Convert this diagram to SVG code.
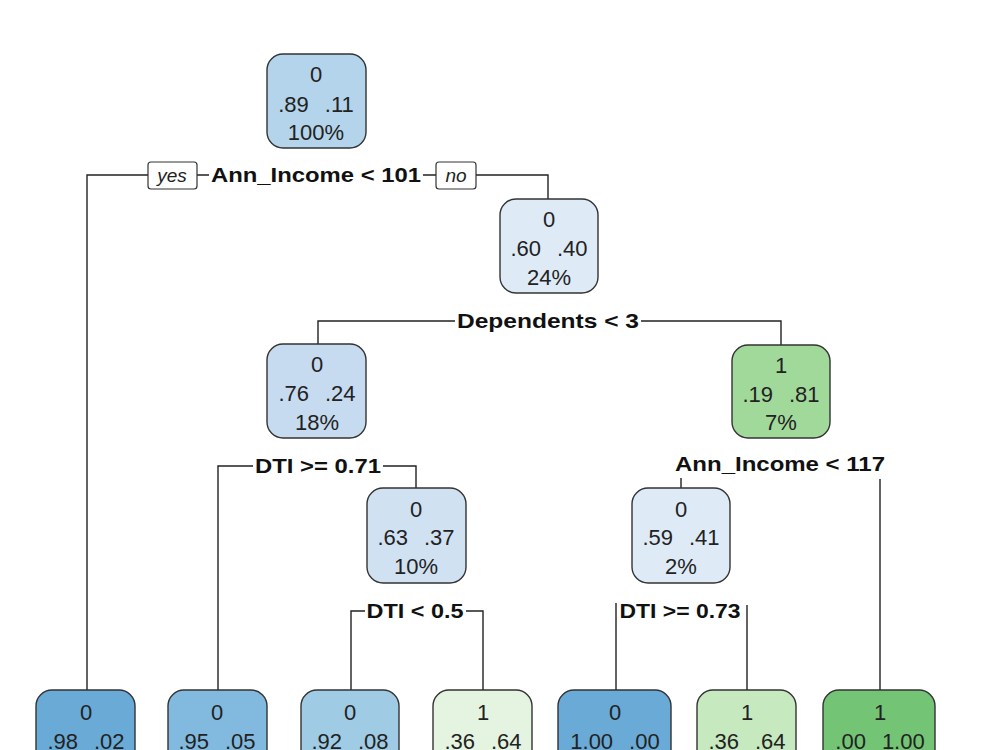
<svg xmlns="http://www.w3.org/2000/svg" width="1000" height="750" viewBox="0 0 1000 750">
<style>
.box{stroke:#333;stroke-width:1.4}
.t{font-family:"Liberation Sans",Arial,sans-serif;font-size:22px;fill:#222;text-anchor:middle}
.lab{font-family:"Liberation Sans",Arial,sans-serif;font-size:21px;font-weight:bold;fill:#111;text-anchor:middle}
.yn{font-family:"Liberation Sans",Arial,sans-serif;font-size:19px;font-style:italic;fill:#222;text-anchor:middle}
.c{stroke:#222;stroke-width:1.4;fill:none}
</style>
<rect width="1000" height="750" fill="#fff"/>
<g id="connectors">
<path class="c" d="M148,175H87V690 M197,175H209 M423,175H436 M476,175H548V199"/>
<path class="c" d="M455,321H318V344 M641,321H781V345"/>
<path class="c" d="M253,466H218V690 M383,466H416V488"/>
<path class="c" d="M365,611H351V690 M466,611H483V690"/>
<path class="c" d="M681,478V488 M880,479V690"/>
<path class="c" d="M616,603V690 M747,605V690"/>
</g>
<g id="n1"><rect class="box" x="267" y="54" width="99" height="94" rx="16" fill="#b3d4ea"/>
<text class="t" x="316" y="82">0</text><text class="t" x="316" y="112">.89<tspan dx="16">.11</tspan></text><text class="t" x="316" y="140">100%</text></g>
<g id="split1"><rect x="148" y="162" width="49" height="27" rx="3" fill="#fff" stroke="#333" stroke-width="1.2"/><text class="yn" x="172" y="182">yes</text>
<text class="lab" x="316" y="182" textLength="210" lengthAdjust="spacingAndGlyphs">Ann_Income &lt; 101</text>
<rect x="436" y="162" width="40" height="27" rx="3" fill="#fff" stroke="#333" stroke-width="1.2"/><text class="yn" x="456" y="182">no</text></g>
<g id="n2"><rect class="box" x="500" y="199" width="98" height="94" rx="16" fill="#deebf7"/>
<text class="t" x="549" y="227">0</text><text class="t" x="549" y="256">.60<tspan dx="16">.40</tspan></text><text class="t" x="549" y="285">24%</text></g>
<g id="split2"><text class="lab" x="548" y="328" textLength="182" lengthAdjust="spacingAndGlyphs">Dependents &lt; 3</text></g>
<g id="n3"><rect class="box" x="267" y="344" width="99" height="94" rx="16" fill="#c6dbef"/>
<text class="t" x="317" y="372">0</text><text class="t" x="317" y="401">.76<tspan dx="16">.24</tspan></text><text class="t" x="317" y="430">18%</text></g>
<g id="n4"><rect class="box" x="732" y="345" width="98" height="93" rx="16" fill="#a1d99b"/>
<text class="t" x="781" y="373">1</text><text class="t" x="781" y="402">.19<tspan dx="16">.81</tspan></text><text class="t" x="781" y="430">7%</text></g>
<g id="split3"><text class="lab" x="318" y="473" textLength="126" lengthAdjust="spacingAndGlyphs">DTI &gt;= 0.71</text></g>
<g id="split4"><text class="lab" x="780" y="471" textLength="210" lengthAdjust="spacingAndGlyphs">Ann_Income &lt; 117</text></g>
<g id="n5"><rect class="box" x="367" y="488" width="99" height="95" rx="16" fill="#d0e1f2"/>
<text class="t" x="416" y="517">0</text><text class="t" x="416" y="545">.63<tspan dx="16">.37</tspan></text><text class="t" x="416" y="574">10%</text></g>
<g id="n6"><rect class="box" x="632" y="488" width="98" height="95" rx="16" fill="#deebf7"/>
<text class="t" x="681" y="517">0</text><text class="t" x="681" y="545">.59<tspan dx="16">.41</tspan></text><text class="t" x="681" y="574">2%</text></g>
<g id="split5"><text class="lab" x="415" y="618" textLength="97" lengthAdjust="spacingAndGlyphs">DTI &lt; 0.5</text></g>
<g id="split6"><text class="lab" x="680" y="618" textLength="121" lengthAdjust="spacingAndGlyphs">DTI &gt;= 0.73</text></g>
<g id="leaf1"><rect class="box" x="36" y="690" width="99" height="94" rx="16" fill="#6aaad7"/>
<text class="t" x="86" y="720">0</text><text class="t" x="86" y="749">.98<tspan dx="16">.02</tspan></text></g>
<g id="leaf2"><rect class="box" x="168" y="690" width="99" height="94" rx="16" fill="#82badf"/>
<text class="t" x="217" y="720">0</text><text class="t" x="217" y="749">.95<tspan dx="16">.05</tspan></text></g>
<g id="leaf3"><rect class="box" x="301" y="690" width="98" height="94" rx="16" fill="#a0cbe4"/>
<text class="t" x="350" y="720">0</text><text class="t" x="350" y="749">.92<tspan dx="16">.08</tspan></text></g>
<g id="leaf4"><rect class="box" x="433" y="690" width="99" height="94" rx="16" fill="#e5f4e0"/>
<text class="t" x="483" y="720">1</text><text class="t" x="483" y="749">.36<tspan dx="16">.64</tspan></text></g>
<g id="leaf5"><rect class="box" x="558" y="690" width="113" height="94" rx="16" fill="#6aaad7"/>
<text class="t" x="615" y="720">0</text><text class="t" x="615" y="749">1.00<tspan dx="16">.00</tspan></text></g>
<g id="leaf6"><rect class="box" x="697" y="690" width="99" height="94" rx="16" fill="#c7e9c0"/>
<text class="t" x="747" y="720">1</text><text class="t" x="747" y="749">.36<tspan dx="16">.64</tspan></text></g>
<g id="leaf7"><rect class="box" x="823" y="690" width="112" height="94" rx="16" fill="#74c476"/>
<text class="t" x="880" y="720">1</text><text class="t" x="880" y="749">.00<tspan dx="16">1.00</tspan></text></g>
</svg>
